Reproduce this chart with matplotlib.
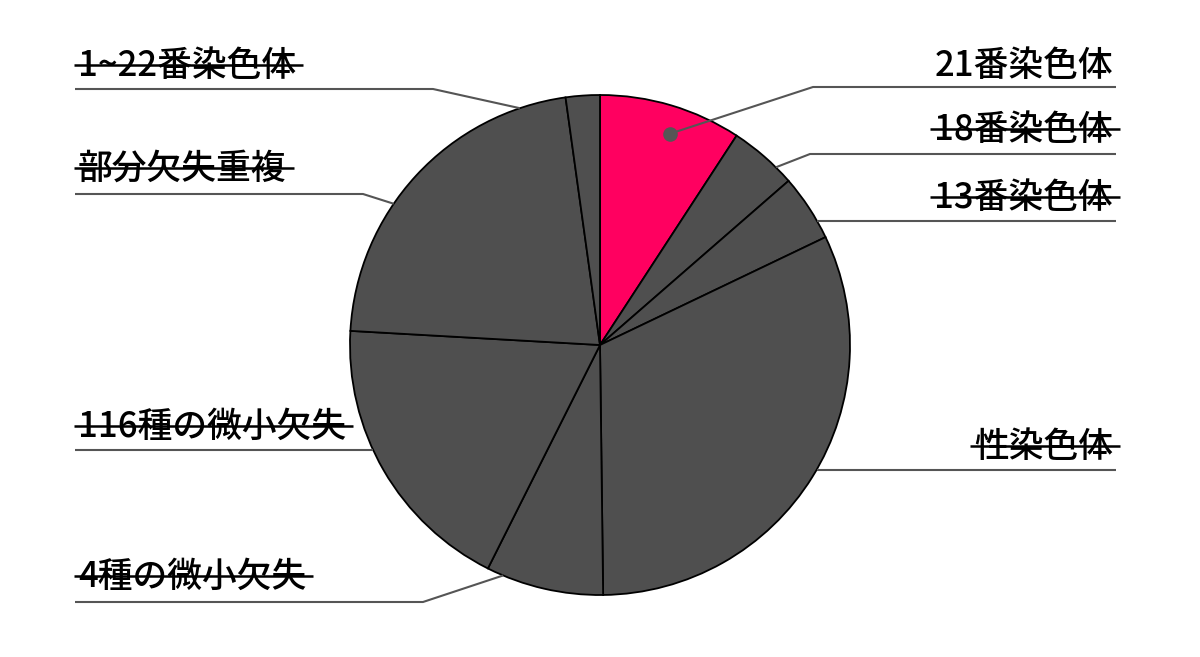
import matplotlib
matplotlib.use('Agg')
import matplotlib.pyplot as plt
import numpy as np

# ---- data ----
categories = ['21番染色体', '18番染色体', '13番染色体', '性染色体',
              '4種の微小欠失', '116種の微小欠失', '部分欠失重複', '1~22番染色体']
values = [9.2, 4.4, 4.3, 31.9, 7.6, 18.5, 21.9, 2.2]
highlight = '21番染色体'

# ---- layout / style ----
W, H = 1200, 657
CX, CY, R = 600, 345, 250
PINK = '#ff0060'
GREY = '#4f4f4f'
LINE = '#555555'
label_side = ['right', 'right', 'right', 'right', 'left', 'left', 'left', 'left']
label_y = [66, 130, 198, 447, 577, 427, 169, 66]
line_y = [87, 154, 221, 470, 602, 450, 194, 89]
elbow_x = [813, 810, None, None, 423, None, 363, 433]
anchor_deg = [18.3, 44.7, 60.3, 119.9, 202.8, 245.2, 304.4, 341.3]
anchor_r = [0.89, 1, 1, 1, 1, 1, 1, 1]
LEFT_X, RIGHT_X = 75, 1116

plt.rcParams['font.family'] = ['Noto Sans CJK JP', 'DejaVu Sans']

fig = plt.figure(figsize=(W / 100, H / 100), dpi=100)
ax = fig.add_axes([0, 0, 1, 1])

colors = [PINK if c == highlight else GREY for c in categories]
ax.pie(values, colors=colors, startangle=90, counterclock=False,
       center=(CX, H - CY), radius=R,
       wedgeprops=dict(edgecolor='black', linewidth=1.3))
ax.set_xlim(0, W)
ax.set_ylim(0, H)
ax.set_aspect('auto')
ax.axis('off')

texts = []
for i, cat in enumerate(categories):
    th = np.deg2rad(anchor_deg[i])
    ax_x = CX + R * anchor_r[i] * np.sin(th)
    ax_y = (H - CY) + R * anchor_r[i] * np.cos(th)
    outer = RIGHT_X if label_side[i] == 'right' else LEFT_X
    ex = elbow_x[i] if elbow_x[i] is not None else ax_x
    ly = H - line_y[i]
    ax.plot([outer, ex, ax_x], [ly, ly, ax_y], color=LINE, lw=1.5,
            solid_capstyle='butt', zorder=3)
    if cat == highlight:
        ax.plot([ax_x], [ax_y], 'o', color=LINE, markersize=9.5, zorder=4)
    if label_side[i] == 'right':
        t = ax.text(RIGHT_X - 3, H - label_y[i], cat, ha='right', va='center',
                    fontsize=25, fontweight='medium', color='black', zorder=5)
    else:
        t = ax.text(LEFT_X + 3, H - label_y[i], cat, ha='left', va='center',
                    fontsize=25, fontweight='medium', color='black', zorder=5)
    texts.append((cat, t))

fig.canvas.draw()
renderer = fig.canvas.get_renderer()
inv = ax.transData.inverted()
for cat, t in texts:
    if cat == highlight:
        continue
    bb = t.get_window_extent(renderer)
    (x0, y0), (x1, y1) = inv.transform([(bb.x0, bb.y0), (bb.x1, bb.y1)])
    ym = (y0 + y1) / 2 + 1
    ax.plot([x0 - 4, x1 + 7], [ym, ym], color='black', lw=1.8, zorder=6,
            solid_capstyle='butt')

fig.savefig('out.png', dpi=100, facecolor='white')
